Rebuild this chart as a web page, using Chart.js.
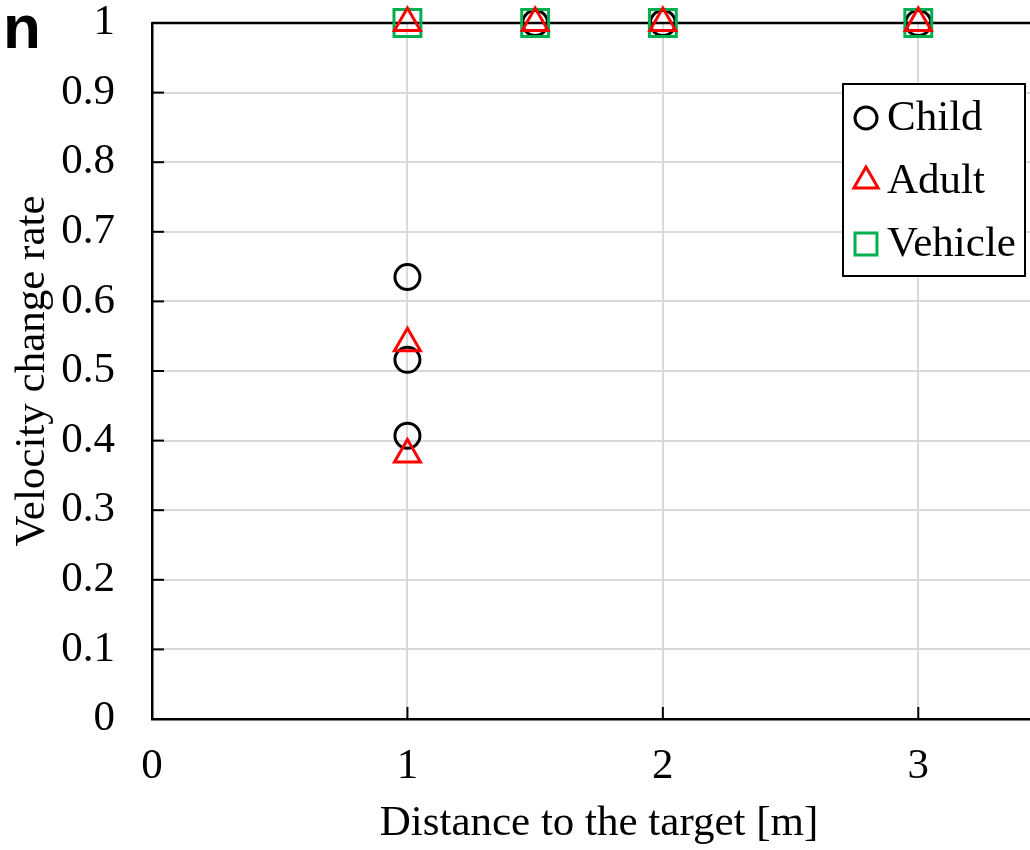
<!DOCTYPE html>
<html>
<head>
<meta charset="utf-8">
<script src="https://cdn.jsdelivr.net/npm/chart.js@4/dist/chart.umd.min.js"></script>
<style>
    html, body { margin: 0; padding: 0; background: #fff; overflow: hidden; }
    #wrap { position: relative; width: 1030px; height: 850px; overflow: hidden; }
    #panel {
        position: absolute; left: 3px; top: -4px;
        font: bold 62px "Liberation Sans", Arial, sans-serif; line-height: 62px;
    }
</style>
</head>
<body>
<div id="wrap">
    <canvas id="chart" width="1046" height="850"></canvas>
    <div id="panel">n</div>
</div>
<script>
// series data
const seriesNames = ["Child", "Adult", "Vehicle"];
const childX = [1, 1, 1, 1.5, 2, 3];
const childY = [0.635, 0.516, 0.407, 1, 1, 1];
const adultX = [1, 1, 1, 1.5, 2, 3];
const adultY = [0.54, 0.38, 1, 1, 1, 1];
const vehicleX = [1, 1.5, 2, 3];
const vehicleY = [1, 1, 1, 1];

// tick values
const xTicks = [0, 1, 2, 3];
const yTicks = [0, 0.1, 0.2, 0.3, 0.4, 0.5, 0.6, 0.7, 0.8, 0.9, 1];

const FONT = "'Liberation Serif', 'Times New Roman', serif";
const FS = 43;

const toPoints = (xs, ys) => xs.map((x, i) => ({ x: x, y: ys[i] }));

// draw a marker shaped like chart.js point styles
function drawMarker(ctx, style, x, y, r) {
    ctx.beginPath();
    if (style === "circle") {
        ctx.arc(x, y, r, 0, Math.PI * 2);
    } else if (style === "triangle") {
        ctx.moveTo(x, y - r);
        ctx.lineTo(x + r * Math.sin(Math.PI / 3), y + r / 2);
        ctx.lineTo(x - r * Math.sin(Math.PI / 3), y + r / 2);
        ctx.closePath();
    } else {
        const s = r * Math.SQRT1_2;
        ctx.rect(x - s, y - s, 2 * s, 2 * s);
    }
    ctx.stroke();
}

// top frame line, inward tick marks and the boxed legend
const framePlugin = {
    id: "frame",
    beforeDatasetsDraw(chart) {
        const { ctx, chartArea, scales } = chart;
        ctx.save();
        ctx.strokeStyle = "#000";
        ctx.lineWidth = 2.5;
        ctx.beginPath();
        ctx.moveTo(chartArea.left, chartArea.top);
        ctx.lineTo(chartArea.right, chartArea.top);
        ctx.stroke();
        ctx.lineWidth = 2;
        yTicks.forEach((v) => {
            const py = scales.y.getPixelForValue(v);
            ctx.beginPath();
            ctx.moveTo(chartArea.left, py);
            ctx.lineTo(chartArea.left + 12, py);
            ctx.stroke();
        });
        xTicks.slice(1).forEach((v) => {
            const px = scales.x.getPixelForValue(v);
            ctx.beginPath();
            ctx.moveTo(px, chartArea.bottom);
            ctx.lineTo(px, chartArea.bottom - 12);
            ctx.stroke();
        });
        ctx.restore();
    },
    afterDraw(chart) {
        const { ctx, chartArea } = chart;
        const w = 182, h = 192;
        const left = chartArea.right - w - 21;
        const top = chartArea.top + 61;
        ctx.save();
        ctx.fillStyle = "#fff";
        ctx.fillRect(left, top, w, h);
        ctx.strokeStyle = "#000";
        ctx.lineWidth = 2;
        ctx.strokeRect(left, top, w, h);
        ctx.font = FS + "px " + FONT;
        ctx.textBaseline = "middle";
        chart.data.datasets.forEach((ds, i) => {
            const cy = top + 34 + i * 63;
            ctx.strokeStyle = ds.borderColor;
            ctx.lineWidth = 3;
            const r = ds.pointStyle === "circle" ? 11 : ds.pointStyle === "triangle" ? 14 : 15.5;
            drawMarker(ctx, ds.pointStyle, left + 23, cy, r);
            ctx.fillStyle = "#000";
            ctx.fillText(ds.label, left + 44, cy + 1);
        });
        ctx.restore();
    }
};

new Chart(document.getElementById("chart"), {
    type: "scatter",
    data: {
        datasets: [
            {
                label: seriesNames[0],
                data: toPoints(childX, childY),
                pointStyle: "circle",
                pointRadius: 12.5,
                borderColor: "#000000",
                backgroundColor: "rgba(0,0,0,0)",
                borderWidth: 3,
                clip: false,
                order: 2
            },
            {
                label: seriesNames[1],
                data: toPoints(adultX, adultY),
                pointStyle: "triangle",
                pointRadius: 15,
                borderColor: "#ff0000",
                backgroundColor: "rgba(0,0,0,0)",
                borderWidth: 3,
                clip: false,
                order: 0
            },
            {
                label: seriesNames[2],
                data: toPoints(vehicleX, vehicleY),
                pointStyle: "rect",
                pointRadius: 19,
                borderColor: "#00b050",
                backgroundColor: "rgba(0,0,0,0)",
                borderWidth: 3,
                clip: false,
                order: 1
            }
        ]
    },
    options: {
        responsive: false,
        animation: false,
        layout: { autoPadding: false, padding: { top: 23, right: 0, bottom: 0, left: 0 } },
        plugins: {
            legend: { display: false },
            tooltip: { enabled: false }
        },
        scales: {
            x: {
                type: "linear",
                min: 0,
                max: 3.5,
                afterBuildTicks: (scale) => {
                    scale.ticks = xTicks.map((v) => ({ value: v }));
                },
                afterFit: (scale) => {
                    scale.height = 131;
                    scale.paddingLeft = 0;
                    scale.paddingRight = 0;
                },
                ticks: {
                    color: "#000",
                    padding: 0,
                    font: { family: FONT, size: FS, lineHeight: 1 },
                    maxRotation: 0
                },
                grid: {
                    color: "#d9d9d9", lineWidth: 2,
                    drawTicks: true, tickLength: 26, tickColor: "rgba(0,0,0,0)"
                },
                border: { color: "#000", width: 2.5 },
                title: {
                    display: true,
                    text: "Distance to the target [m]",
                    color: "#000",
                    font: { family: FONT, size: FS, lineHeight: 1.2 },
                    padding: { top: 0, bottom: 0 }
                }
            },
            y: {
                type: "linear",
                min: 0,
                max: 1,
                afterBuildTicks: (scale) => {
                    scale.ticks = yTicks.map((v) => ({ value: v }));
                },
                afterFit: (scale) => {
                    scale.width = 152;
                    scale.paddingTop = 0;
                    scale.paddingBottom = 0;
                },
                ticks: {
                    color: "#000",
                    padding: 0,
                    font: { family: FONT, size: FS, lineHeight: 1 },
                    callback: (v) => String(+v.toFixed(1))
                },
                grid: {
                    color: "#d9d9d9", lineWidth: 2,
                    drawTicks: true, tickLength: 37, tickColor: "rgba(0,0,0,0)"
                },
                border: { color: "#000", width: 2.5 },
                title: {
                    display: true,
                    text: "Velocity change rate",
                    color: "#000",
                    font: { family: FONT, size: FS, lineHeight: 1.2 },
                    padding: { top: 7, bottom: 0 }
                }
            }
        }
    },
    plugins: [framePlugin]
});
</script>
</body>
</html>
